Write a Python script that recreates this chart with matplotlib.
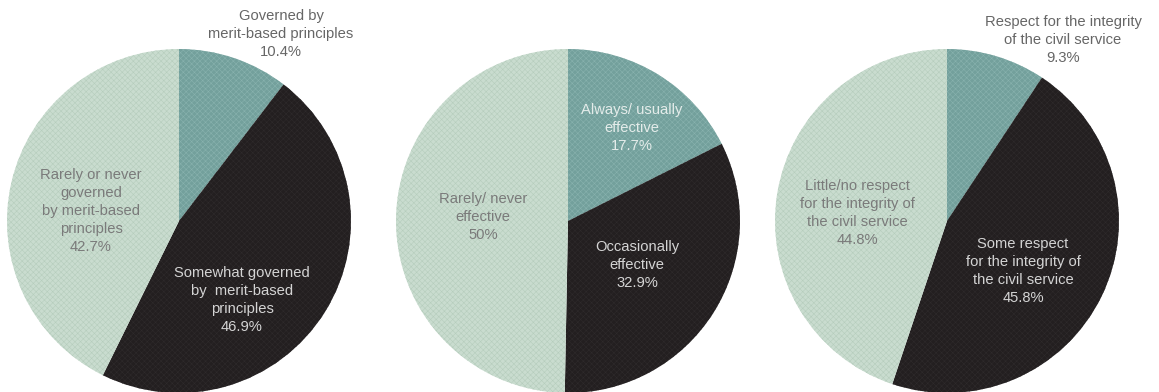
import matplotlib.pyplot as plt

# share of responses per pie, clockwise from 12 o'clock
merit_labels = ['Governed by\nmerit-based principles\n10.4%',
                'Somewhat governed\nby  merit-based\nprinciples\n46.9%',
                'Rarely or never\ngoverned\nby merit-based\nprinciples\n42.7%']
merit_vals = [10.4, 46.9, 42.7]

effect_labels = ['Always/ usually\neffective\n17.7%',
                 'Occasionally\neffective\n32.9%',
                 'Rarely/ never\neffective\n50%']
effect_vals = [17.7, 32.9, 50]

respect_labels = ['Respect for the integrity\nof the civil service\n9.3%',
                  'Some respect\nfor the integrity of\nthe civil service\n45.8%',
                  'Little/no respect\nfor the integrity of\nthe civil service\n44.8%']
respect_vals = [9.3, 45.8, 44.8]

colors = ['#73a09c', '#231f20', '#c9dccf']
hatch_cols = ['#88b2ae', '#2e2a2b', '#b6cdbd']

W, H = 1159, 392
fig = plt.figure(figsize=(W / 100, H / 100), dpi=100)
ax = fig.add_axes([0, 0, 1, 1])

plt.rcParams['hatch.linewidth'] = 0.4

pies = [(merit_vals, merit_labels, 179),
        (effect_vals, effect_labels, 568),
        (respect_vals, respect_labels, 947)]
R = 172
cy = H - 221

for vals, labels, cx in pies:
    wedges, _ = ax.pie(vals, colors=colors, startangle=90, counterclock=False,
                       center=(cx, cy), radius=R, frame=True, normalize=True,
                       wedgeprops=dict(linewidth=0))
    for w, hc in zip(wedges, hatch_cols):
        w.set_hatch('xxxxxx')
        w.set_edgecolor(hc)
        w.set_linewidth(0)

ax.set_xlim(0, W)
ax.set_ylim(0, H)
ax.set_aspect('equal')
ax.axis('off')

font = dict(family=['Liberation Sans', 'DejaVu Sans'], fontsize=10.6,
            ha='center', va='center', linespacing=1.38)
# (x, y from top, label, colour)
label_pos = [
    (281, 34, merit_labels[0], '#666666'),
    (242, 300, merit_labels[1], '#d4d4d4'),
    (91, 211, merit_labels[2], '#7a7a7a'),
    (632, 128, effect_labels[0], '#e4ecea'),
    (637, 265, effect_labels[1], '#d4d4d4'),
    (483, 217, effect_labels[2], '#7a7a7a'),
    (1063, 40, respect_labels[0], '#666666'),
    (1023, 271, respect_labels[1], '#d4d4d4'),
    (857, 213, respect_labels[2], '#7a7a7a'),
]
for x, y, txt, c in label_pos:
    ax.text(x, H - y, txt, color=c, **font)

fig.savefig('out.png', dpi=100, facecolor='white')
